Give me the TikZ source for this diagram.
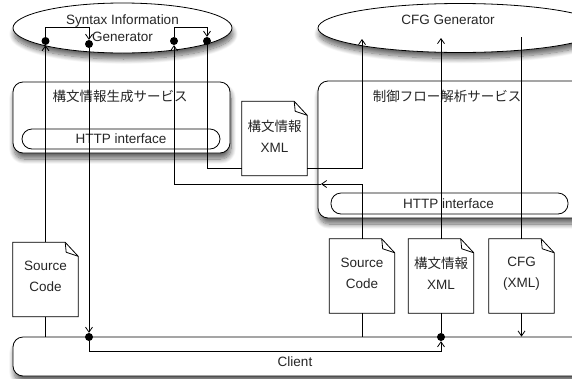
\documentclass[tikz,border=0pt]{standalone}
\usepackage{fontspec}
\setmainfont{Liberation Sans}
\newfontfamily\jp{Noto Sans CJK JP}
\usetikzlibrary{shapes.geometric,arrows.meta,shadows.blur}

% #1 name, #2 centre x, #3 centre y, #4 text y, #5 text
\newcommand\mydoc[5]{%
  \node[docbox] (#1) at (#2,#3) {};
  \fill[black!22, xshift=1.5pt, yshift=-1.5pt] (#1.north west) -- ([xshift=-13pt]#1.north east) -- ([yshift=-14pt]#1.north east) -- (#1.south east) -- (#1.south west) -- cycle;
  \draw[line, fill=white] (#1.north west) -- ([xshift=-13pt]#1.north east) -- ([yshift=-14pt]#1.north east) -- (#1.south east) -- (#1.south west) -- cycle;
  \draw[line] ([xshift=-13pt]#1.north east) -- ([xshift=-12pt,yshift=-10pt]#1.north east) -- ([yshift=-14pt]#1.north east);
  \node[doct] (#1t) at (#2,#4) {#5};
}

\begin{document}
\begin{tikzpicture}[x=1pt,y=-1pt,
  every node/.style={font=\fontsize{13.5}{17}\selectfont, text=black!85},
  line/.style={line width=0.8pt, draw=black},
  arr/.style={line, -{Straight Barb[length=5pt,width=7pt]}},
  dotc/.style={circle, fill=black, inner sep=0, minimum size=8pt},
  shad/.style={blur shadow={shadow xshift=1pt, shadow yshift=-6pt, shadow blur steps=12, shadow blur radius=5pt, shadow opacity=60}},
  gen/.style={ellipse, draw=black, line width=0.8pt, fill=white, inner sep=0, shad},
  svc/.style={rectangle, rounded corners=10pt, draw=black, line width=0.8pt, fill=white, inner sep=0, shad},
  http/.style={rectangle, rounded corners=10pt, draw=black, line width=0.8pt, inner sep=0},
  docbox/.style={rectangle, inner sep=0, minimum width=65pt, minimum height=74pt},
  doct/.style={align=center, font=\fontsize{13.5}{21}\selectfont},
]
\useasboundingbox (0,0) rectangle (572,378);
\clip (0,0) rectangle (572,378);

% generators
\node[gen, minimum width=219pt, minimum height=50pt] (sig) at (122.5,28) {};
\node[align=center] (sigt) at (122.5,28) {Syntax Information\\Generator};
\node[gen, minimum width=284pt, minimum height=49pt] (cfg) at (460,28) {};
\node (cfgt) at (448,20) {CFG Generator};

% services
\node[svc, minimum width=217pt, minimum height=71pt] (svc1) at (121.5,117.5) {};
\node (svc1t) at (120,96) {\jp 構文情報生成サービス};
\node[http, minimum width=198pt, minimum height=20pt] (http1) at (121,139) {HTTP interface};

\node[svc, minimum width=272pt, minimum height=137pt] (svc2) at (454,149.5) {};
\node (svc2t) at (447,96) {\jp 制御フロー解析サービス};
\node[http, minimum width=237pt, minimum height=21pt] (http2) at (449.5,203.5) {};
\node (http2t) at (448.5,203.5) {HTTP interface};

% client
\node[svc, minimum width=577pt, minimum height=39pt] (client) at (301.5,356.5) {};
\node (clientt) at (295,362) {Client};

% documents
\mydoc{srcL}{45.5}{279.5}{276.5}{Source\\Code}
\mydoc{mxml}{274.5}{138.5}{136}{{\jp 構文情報}\\XML}
\mydoc{srcR}{362}{276}{273}{Source\\Code}
\mydoc{rxml}{441}{276}{273}{{\jp 構文情報}\\XML}
\mydoc{cfgd}{521.5}{276}{274}{CFG\\(XML)}

% dots
\node[dotc] (d1) at (45.5,41) {};
\node[dotc] (d2) at (89,44) {};
\node[dotc] (d3) at (89,337) {};
\node[dotc] (d4) at (441,337) {};
\node[dotc] (d5) at (174,41) {};
\node[dotc] (d6) at (207,41) {};

% coordinates
\coordinate (k1) at (45.5,27);
\coordinate (k2) at (89,27);
\coordinate (k3) at (89,351);
\coordinate (k4) at (441,351);
\coordinate (t1) at (441,38);
\coordinate (k5) at (362,184);
\coordinate (k6) at (321,184);
\coordinate (k7) at (174,184);
\coordinate (k8) at (174,27);
\coordinate (k9) at (207,27);
\coordinate (k10) at (207,168);
\coordinate (k11) at (242,168);
\coordinate (k12) at (307,168);
\coordinate (k13) at (362,168);
\coordinate (t2) at (362,39);
\coordinate (t3) at (521.5,37);

% connectors
\draw[line] (srcL.south) -- (srcL.south |- client.north);
\draw[arr] (srcL.north) -- (d1.south);
\draw[arr] (d1) -- (k1) -- (k2) -- (d2.north);
\draw[arr] (d2) -- (d3.north);
\draw[arr] (d3) -- (k3) -- (k4) -- (d4.south);
\draw[line] (d4) -- (rxml.south);
\draw[arr] (rxml.north) -- (t1);

\draw[arr] (srcR.north) -- (k5) -- (k6);
\draw[arr] (k6) -- (k7) -- (d5.south);
\draw[arr] (d5) -- (k8) -- (k9) -- (d6.north);
\draw[line] (d6) -- (k10) -- (k11);
\draw[arr] (k12) -- (k13) -- (t2);
\draw[line] (srcR.south) -- (srcR.south |- client.north);

\draw[line] (t3) -- (cfgd.north);
\draw[arr] (cfgd.south) -- (cfgd.south |- client.north);
\end{tikzpicture}
\end{document}
